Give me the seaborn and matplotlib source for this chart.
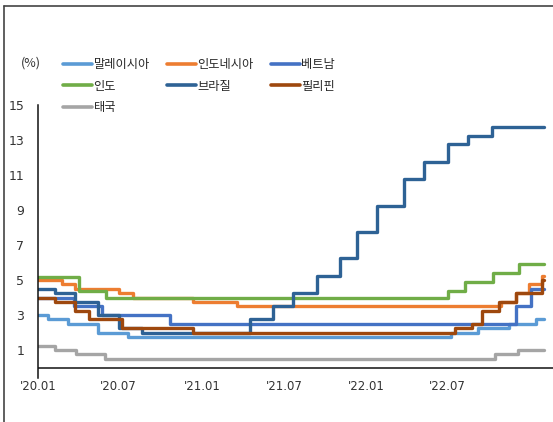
import matplotlib
matplotlib.use('Agg')
import matplotlib.pyplot as plt
from matplotlib.lines import Line2D
import seaborn as sns
import pandas as pd

# policy rate change dates and levels (%)
countries = ['말레이시아', '인도네시아', '베트남', '인도', '브라질', '필리핀', '태국']
colors = ['#5B9BD5', '#ED7D31', '#4472C4', '#70AD47', '#2E6295', '#9E480E', '#A5A5A5']

malaysia_dates = ['2020-01-01', '2020-01-22', '2020-03-03', '2020-05-05', '2020-07-07',
                  '2022-05-11', '2022-07-06', '2022-09-08', '2022-11-03']
malaysia_rates = [3.00, 2.75, 2.50, 2.00, 1.75, 2.00, 2.25, 2.50, 2.75]

indonesia_dates = ['2020-01-01', '2020-02-20', '2020-03-19', '2020-06-18', '2020-07-16',
                   '2020-11-19', '2021-02-18', '2022-08-23', '2022-09-22', '2022-10-20', '2022-11-17']
indonesia_rates = [5.00, 4.75, 4.50, 4.25, 4.00, 3.75, 3.50, 3.75, 4.25, 4.75, 5.25]

vietnam_dates = ['2020-01-01', '2020-03-17', '2020-05-13', '2020-10-01', '2022-09-23', '2022-10-25']
vietnam_rates = [4.0, 3.5, 3.0, 2.5, 3.5, 4.5]

india_dates = ['2020-01-01', '2020-03-27', '2020-05-22', '2022-05-04', '2022-06-08',
               '2022-08-05', '2022-09-30']
india_rates = [5.15, 4.40, 4.00, 4.40, 4.90, 5.40, 5.90]

brazil_dates = ['2020-01-01', '2020-02-05', '2020-03-18', '2020-05-06', '2020-06-17', '2020-08-05',
                '2021-03-17', '2021-05-05', '2021-06-16', '2021-08-04', '2021-09-22', '2021-10-27',
                '2021-12-08', '2022-02-02', '2022-03-16', '2022-05-04', '2022-06-15', '2022-08-03']
brazil_rates = [4.50, 4.25, 3.75, 3.00, 2.25, 2.00, 2.75, 3.50, 4.25, 5.25, 6.25, 7.75,
                9.25, 10.75, 11.75, 12.75, 13.25, 13.75]

philippines_dates = ['2020-01-01', '2020-02-06', '2020-03-19', '2020-04-16', '2020-06-25',
                     '2020-11-19', '2022-05-19', '2022-06-23', '2022-07-14', '2022-08-18',
                     '2022-09-22', '2022-11-17']
philippines_rates = [4.00, 3.75, 3.25, 2.75, 2.25, 2.00, 2.25, 2.50, 3.25, 3.75, 4.25, 5.00]

thailand_dates = ['2020-01-01', '2020-02-05', '2020-03-20', '2020-05-20', '2022-08-10', '2022-09-28']
thailand_rates = [1.25, 1.00, 0.75, 0.50, 0.75, 1.00]

end_date = '2022-11-20'

tick_dates = ['2020-01-01', '2020-06-16', '2020-12-08', '2021-05-28', '2021-11-16', '2022-05-02']
tick_labels = ["'20.01", "'20.07", "'21.01", "'21.07", "'22.01", "'22.07"]
ytick_values = [1, 3, 5, 7, 9, 11, 13, 15]

series = [(malaysia_dates, malaysia_rates), (indonesia_dates, indonesia_rates),
          (vietnam_dates, vietnam_rates), (india_dates, india_rates),
          (brazil_dates, brazil_rates), (philippines_dates, philippines_rates),
          (thailand_dates, thailand_rates)]

rows = []
for name, (dates, rates) in zip(countries, series):
    for d, r in zip(dates + [end_date], rates + [rates[-1]]):
        rows.append({'date': pd.Timestamp(d), 'rate': r, 'country': name})
df = pd.DataFrame(rows)

sns.set_theme(style='white')
plt.rcParams['font.family'] = ['Noto Sans CJK KR', 'DejaVu Sans']

fig = plt.figure(figsize=(5.53, 4.22), dpi=100)
ax = fig.add_axes([0.0687, 0.104, 0.9313, 0.647])

sns.lineplot(data=df, x='date', y='rate', hue='country', hue_order=countries,
             palette=colors, drawstyle='steps-post', linewidth=2.4, ax=ax, legend=False)

ax.set_xlim(pd.Timestamp('2020-01-01'), pd.Timestamp('2022-12-09'))
ax.set_ylim(-0.6, 15)
ax.axhline(0, color='#111111', linewidth=1.1, zorder=5)
ax.set_xticks(pd.to_datetime(tick_dates))
ax.set_xticklabels(tick_labels, fontsize=8.5, color='#333333', family=['DejaVu Sans'])
ax.set_yticks(ytick_values)
ax.set_yticklabels([str(v) for v in ytick_values], fontsize=9, color='#333333', family=['DejaVu Sans'])
ax.tick_params(axis='y', length=0, pad=10)
ax.tick_params(axis='x', length=0, pad=1)
ax.set_xlabel('')
ax.set_ylabel('')
for s in ['top', 'right', 'bottom']:
    ax.spines[s].set_visible(False)
ax.spines['left'].set_color('#111111')
ax.spines['left'].set_linewidth(1.1)

# legend, laid out row by row like the original
handles = {name: Line2D([], [], color=c, linewidth=2.6) for name, c in zip(countries, colors)}
order = ['말레이시아', '인도', '태국', '인도네시아', '브라질', '베트남', '필리핀']
fig.legend([handles[n] for n in order], order, ncol=3, frameon=False,
           loc='upper left', bbox_to_anchor=(0.114, 0.862), fontsize=8.8,
           handlelength=2.35, handletextpad=0.15, columnspacing=1.4, labelspacing=0.68,
           borderaxespad=0, borderpad=0)

fig.text(0.038, 0.851, '(%)', fontsize=9, color='#333333', ha='left', va='center')

# outer frame of the original figure
fig.add_artist(Line2D([0.008, 0.008], [0.0, 0.986], color='#444444', linewidth=1.2))
fig.add_artist(Line2D([0.008, 1.0], [0.986, 0.986], color='#444444', linewidth=1.2))

fig.savefig('out.png', dpi=100)
